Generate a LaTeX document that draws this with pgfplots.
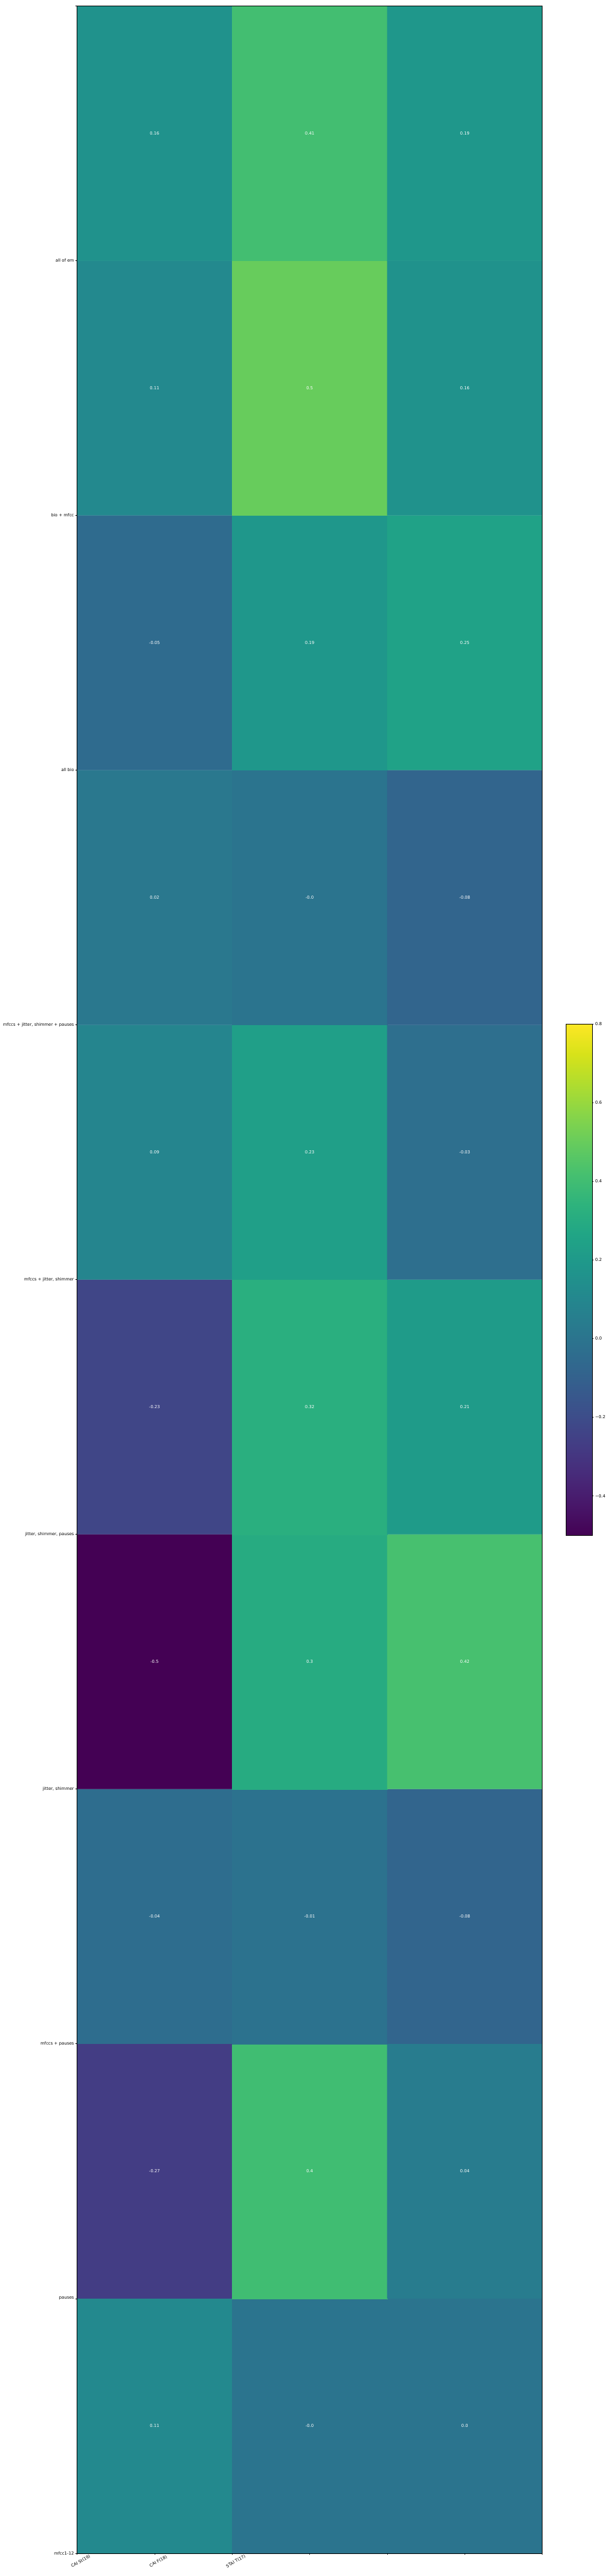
\documentclass[border=0pt]{standalone}
\usepackage{pgfplots}
\pgfplotsset{compat=1.18}
\usepackage{pgfplotstable}
\usepackage{fontspec}
\setmainfont{DejaVu Sans}

% cells: x = column centre, y = row centre (bottom row at 0.5)
\pgfplotstableread{
x   y   v     lab
0.5 0.5 0.11  0.11
1.5 0.5 -0.0  -0.0
2.5 0.5 0.0   0.0
0.5 1.5 -0.27 -0.27
1.5 1.5 0.4   0.4
2.5 1.5 0.04  0.04
0.5 2.5 -0.04 -0.04
1.5 2.5 -0.01 -0.01
2.5 2.5 -0.08 -0.08
0.5 3.5 -0.5  -0.5
1.5 3.5 0.3   0.3
2.5 3.5 0.42  0.42
0.5 4.5 -0.23 -0.23
1.5 4.5 0.32  0.32
2.5 4.5 0.21  0.21
0.5 5.5 0.09  0.09
1.5 5.5 0.23  0.23
2.5 5.5 -0.03 -0.03
0.5 6.5 0.02  0.02
1.5 6.5 -0.0  -0.0
2.5 6.5 -0.08 -0.08
0.5 7.5 -0.05 -0.05
1.5 7.5 0.19  0.19
2.5 7.5 0.25  0.25
0.5 8.5 0.11  0.11
1.5 8.5 0.5   0.5
2.5 8.5 0.16  0.16
0.5 9.5 0.16  0.16
1.5 9.5 0.41  0.41
2.5 9.5 0.19  0.19
}\heat

\begin{document}
\begin{tikzpicture}
\begin{axis}[
  name=main,
  scale only axis,
  width=1106pt, height=6052pt,
  xmin=0, xmax=3, ymin=0, ymax=10,
  enlargelimits=false,
  axis on top,
  colormap/viridis,
  point meta min=-0.5, point meta max=0.8,
  xtick={0,0.5,1,1.5,2,2.5,3},
  xticklabels={CAI St(19),CAI F(18),STAI T(17),,,,},
  ytick={0,1,2,3,4,5,6,7,8,9,10},
  yticklabels={mfcc1-12,pauses,mfccs + pauses,{jitter, shimmer},{jitter, shimmer, pauses},{mfccs + jitter, shimmer},{mfccs + jitter, shimmer + pauses},all bio,bio + mfcc,all of em,},
  tick pos=left,
  tick align=outside,
  major tick length=3.5pt,
  tick style={line width=0.8pt, black},
  axis line style={line width=0.8pt, black},
  tick label style={font=\fontsize{10}{12}\selectfont},
  yticklabel style={anchor=east, inner sep=0pt, xshift=-3.5pt},
  xticklabel style={rotate=30, anchor=center, inner sep=0pt, yshift=-18pt},
  colorbar,
  colorbar/width=62pt,
  colorbar style={
    at={(parent axis.east)}, anchor=west, xshift=48pt,
    scale only axis,
    width=62pt, height=1215pt,
    ytick={-0.4,-0.2,0,0.2,0.4,0.6,0.8},
    yticklabels={−0.4,−0.2,0.0,0.2,0.4,0.6,0.8},
    ytick pos=right, yticklabel pos=right,
    tick align=outside, major tick length=3.5pt,
    tick style={line width=0.8pt, black},
    axis line style={line width=0.8pt, black},
    yticklabel style={font=\fontsize{10}{12}\selectfont, anchor=west, inner sep=0pt, xshift=3.5pt},
  },
]
\addplot[matrix plot*, mesh/cols=3, point meta=explicit] table[x=x, y=y, meta=v] {\heat};
\addplot[draw=none, mark=none, nodes near coords, point meta=explicit symbolic,
  every node near coord/.append style={anchor=center, text=white, inner sep=0pt, font=\fontsize{10}{12}\selectfont}]
  table[x=x, y=y, meta=lab] {\heat};
\end{axis}
\path ([shift={(-183pt,-54pt)}]main.south west) rectangle ([shift={(151pt,14pt)}]main.north east);
\end{tikzpicture}
\end{document}
